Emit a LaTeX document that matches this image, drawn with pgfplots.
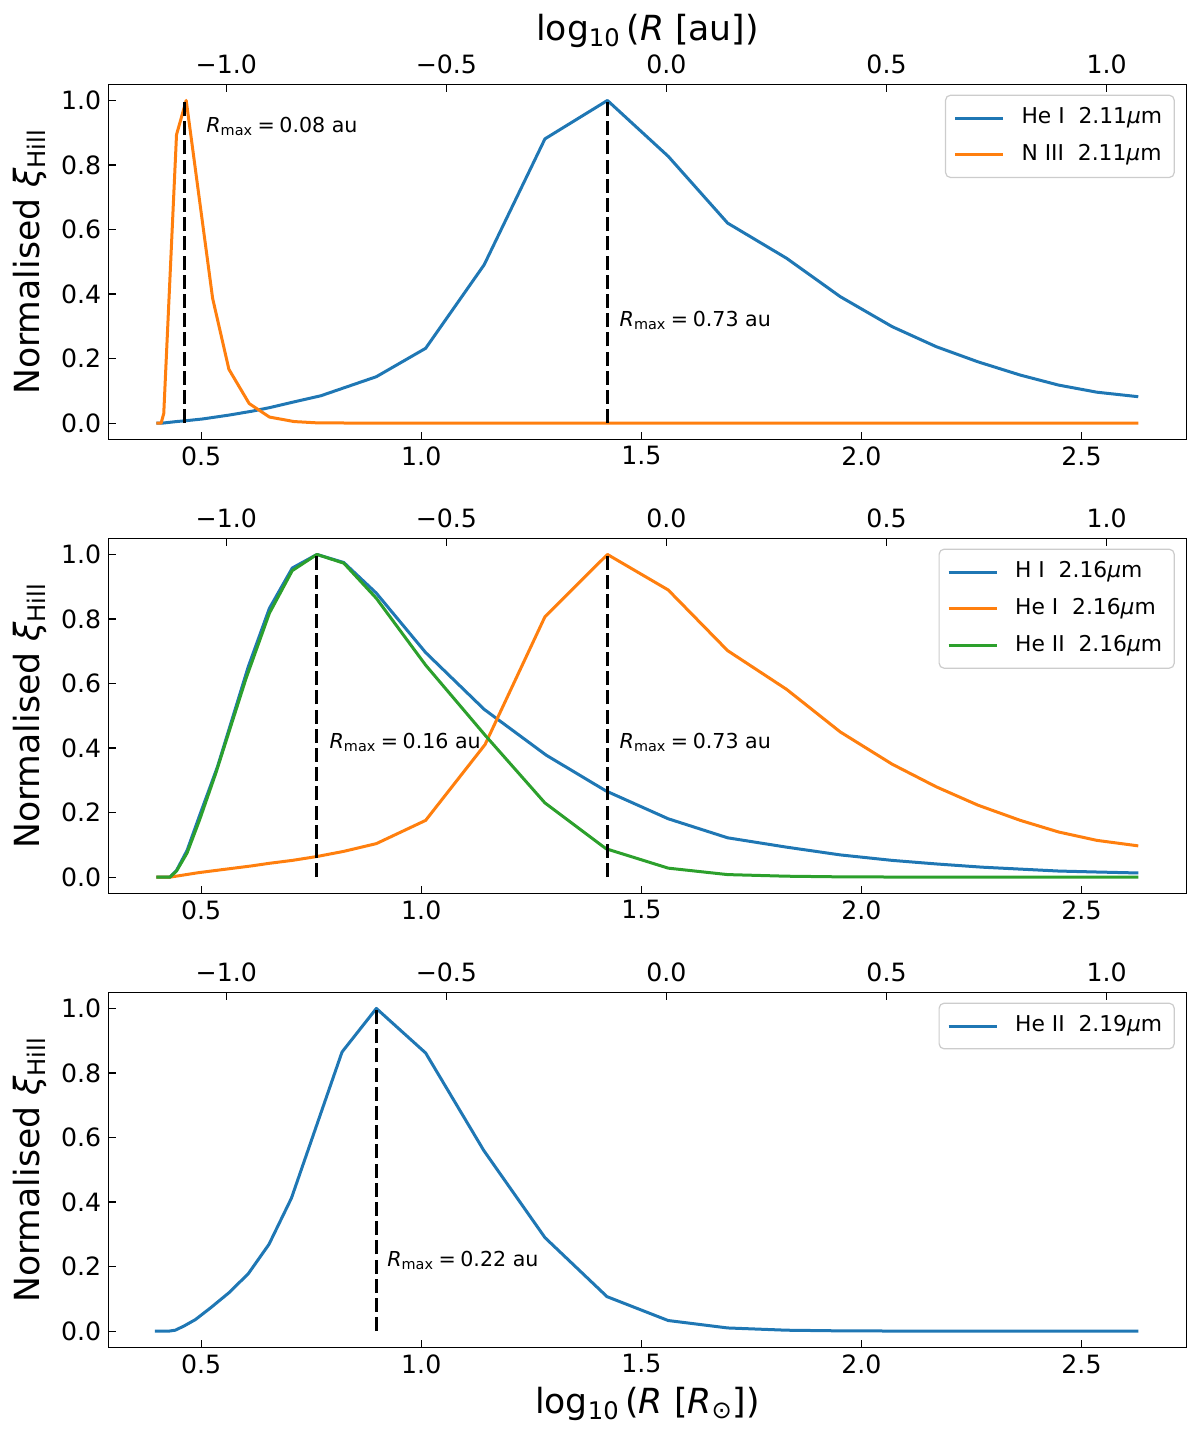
\documentclass[border=0pt]{standalone}
\usepackage{fontspec}
\setmainfont{DejaVu Sans}
\usepackage{pgfplots}
\pgfplotsset{compat=1.18}

\definecolor{tabblue}{HTML}{1F77B4}
\definecolor{taborange}{HTML}{FF7F0E}
\definecolor{tabgreen}{HTML}{2CA02C}

\newcommand{\ticksize}{\fontsize{12.6}{15}\selectfont}
\newcommand{\labsize}{\fontsize{17.3}{20}\selectfont}
\newcommand{\legsize}{\fontsize{10.9}{13}\selectfont}
\newcommand{\annsize}{\fontsize{10.3}{12}\selectfont}
\newcommand{\mum}{\textit{μ}m}
\newcommand{\rmax}[1]{\textit{R}\textsubscript{max}\hspace{0.22em}=\hspace{0.22em}#1 au}

\pgfplotsset{
  panel/.style={
    scale only axis, width=539.2pt, height=177.5pt,
    xmin=0.289, xmax=2.739, ymin=-0.05, ymax=1.05,
    xtick={0.5,1,1.5,2,2.5}, xticklabels={0.5,1.0,1.5,2.0,2.5},
    ytick={0,0.2,0.4,0.6,0.8,1}, yticklabels={0.0,0.2,0.4,0.6,0.8,1.0},
    tick align=inside, xtick pos=left, ytick pos=left,
    major tick length=3.8pt,
    every tick/.style={black, line width=0.6pt},
    axis line style={line width=0.7pt},
    tick label style={font=\ticksize},
    ylabel={Normalised \textit{ξ}\textsubscript{Hill}},
    ylabel style={font=\labsize, at={(axis description cs:-0.06398,0.5)}, anchor=base},
    legend cell align=left,
    legend image code/.code={\draw[##1] (0pt,0pt) -- (24pt,0pt);},
    legend style={at={(axis description cs:0.989,0.971)}, anchor=north east,
      draw=black!20, line width=0.6pt, rounded corners=2.5pt,
      fill=white, fill opacity=0.8, text opacity=1,
      inner xsep=4pt, inner ysep=2.8pt, row sep=1.15pt, font=\legsize,
      nodes={inner xsep=2pt, inner ysep=3pt, text height=8.5pt, text depth=2.7pt},
      /tikz/every odd column/.append style={column sep=6.5pt}},
  },
  topaxis/.style={
    scale only axis, width=539.2pt, height=177.5pt,
    xmin=-1.268, xmax=1.182, ymin=0, ymax=1,
    axis x line*=top, axis y line=none,
    xtick={-1,-0.5,0,0.5,1}, xticklabels={−1.0,−0.5,0.0,0.5,1.0},
    tick align=inside, major tick length=3.8pt,
    every tick/.style={black, line width=0.6pt},
    axis line style={line width=0.7pt},
    tick label style={font=\ticksize},
    xticklabel style={yshift=1.8pt},
  },
  ser/.style={#1, line width=1.5pt, line join=round, mark=none},
  rline/.style={black, line width=1.5pt, dash pattern=on 7pt off 2.6pt, mark=none, forget plot},
}

\begin{document}
\begin{tikzpicture}
\useasboundingbox (0,0) rectangle (600pt,-716pt);

% ---------- panel 1
\begin{axis}[panel, at={(54.15pt,-42.15pt)}, anchor=north west]
\addplot[ser=tabblue] coordinates {
(0.398,0.000) (0.411,0.000) (0.444,0.005) (0.468,0.008) (0.503,0.013)
(0.563,0.025) (0.615,0.037) (0.655,0.048) (0.711,0.066) (0.772,0.085)
(0.898,0.144) (1.010,0.232) (1.143,0.491) (1.281,0.881) (1.423,1.000)
(1.561,0.827) (1.696,0.620) (1.830,0.511) (1.952,0.392) (2.070,0.299)
(2.170,0.237) (2.265,0.190) (2.361,0.149) (2.448,0.118) (2.535,0.096)
(2.629,0.082)};
\addlegendentry{He I\ \ 2.11\mum}
\addplot[ser=taborange] coordinates {
(0.398,0.000) (0.409,0.000) (0.415,0.030) (0.444,0.894) (0.466,1.000)
(0.526,0.387) (0.563,0.167) (0.609,0.061) (0.655,0.019) (0.711,0.005)
(0.763,0.001) (0.898,0.000) (1.281,0.000) (1.830,0.000) (2.629,0.000)};
\addlegendentry{N III\ \ 2.11\mum}
\addplot[rline] coordinates {(0.463,0) (0.463,1)};
\addplot[rline] coordinates {(1.423,0) (1.423,1)};
\node[anchor=base west, font=\annsize, inner sep=0pt] at (axis cs:0.511,0.90) {\rmax{0.08}};
\node[anchor=base west, font=\annsize, inner sep=0pt] at (axis cs:1.450,0.30) {\rmax{0.73}};
\end{axis}
\begin{axis}[topaxis, at={(54.15pt,-42.15pt)}, anchor=north west,
  xlabel={log\textsubscript{10}\,(\textit{R} [au])},
  xlabel style={font=\labsize, at={(axis description cs:0.5,1.12479)}, anchor=base}]
\end{axis}

% ---------- panel 2
\begin{axis}[panel, at={(54.15pt,-269.15pt)}, anchor=north west]
\addplot[ser=tabblue] coordinates {
(0.398,0.000) (0.429,0.000) (0.444,0.021) (0.468,0.083) (0.498,0.197)
(0.537,0.342) (0.607,0.652) (0.655,0.833) (0.707,0.958) (0.763,1.000)
(0.824,0.975) (0.898,0.880) (1.010,0.696) (1.143,0.520) (1.284,0.378)
(1.420,0.267) (1.561,0.181) (1.696,0.122) (1.830,0.093) (1.952,0.069)
(2.070,0.052) (2.170,0.041) (2.274,0.031) (2.361,0.025) (2.448,0.019)
(2.535,0.016) (2.629,0.013)};
\addlegendentry{H I\ \ 2.16\mum}
\addplot[ser=taborange] coordinates {
(0.398,0.000) (0.429,0.000) (0.494,0.014) (0.563,0.026) (0.615,0.035)
(0.655,0.043) (0.707,0.052) (0.763,0.064) (0.824,0.080) (0.898,0.104)
(1.010,0.176) (1.145,0.411) (1.281,0.807) (1.423,1.000) (1.561,0.890)
(1.696,0.702) (1.830,0.582) (1.952,0.450) (2.070,0.350) (2.170,0.280)
(2.265,0.223) (2.361,0.176) (2.448,0.140) (2.535,0.114) (2.629,0.097)};
\addlegendentry{He I\ \ 2.16\mum}
\addplot[ser=tabgreen] coordinates {
(0.398,0.000) (0.429,0.000) (0.444,0.019) (0.468,0.075) (0.496,0.176)
(0.533,0.321) (0.602,0.616) (0.655,0.818) (0.707,0.950) (0.763,1.000)
(0.824,0.973) (0.898,0.864) (1.010,0.657) (1.145,0.440) (1.281,0.230)
(1.420,0.088) (1.561,0.028) (1.696,0.008) (1.830,0.003) (1.952,0.001)
(2.170,0.000) (2.629,0.000)};
\addlegendentry{He II\ \ 2.16\mum}
\addplot[rline] coordinates {(0.763,0) (0.763,1)};
\addplot[rline] coordinates {(1.423,0) (1.423,1)};
\node[anchor=base west, font=\annsize, inner sep=0pt] at (axis cs:0.791,0.40) {\rmax{0.16}};
\node[anchor=base west, font=\annsize, inner sep=0pt] at (axis cs:1.450,0.40) {\rmax{0.73}};
\end{axis}
\begin{axis}[topaxis, at={(54.15pt,-269.15pt)}, anchor=north west]
\end{axis}

% ---------- panel 3
\begin{axis}[panel, at={(54.15pt,-496.15pt)}, anchor=north west,
  xlabel={log\textsubscript{10}\,(\textit{R} [\textit{R}\textsubscript{⊙}])},
  xlabel style={font=\labsize, at={(axis description cs:0.5,-0.18704)}, anchor=base}]
\addplot[ser=tabblue] coordinates {
(0.395,0.000) (0.426,0.000) (0.441,0.003) (0.461,0.016) (0.487,0.036)
(0.522,0.073) (0.563,0.119) (0.607,0.178) (0.654,0.269) (0.705,0.412)
(0.820,0.865) (0.898,1.000) (1.010,0.862) (1.142,0.560) (1.281,0.290)
(1.422,0.107) (1.561,0.033) (1.696,0.010) (1.830,0.003) (1.952,0.001)
(2.170,0.000) (2.629,0.000)};
\addlegendentry{He II\ \ 2.19\mum}
\addplot[rline] coordinates {(0.898,0) (0.898,1)};
\node[anchor=base west, font=\annsize, inner sep=0pt] at (axis cs:0.922,0.20) {\rmax{0.22}};
\end{axis}
\begin{axis}[topaxis, at={(54.15pt,-496.15pt)}, anchor=north west]
\end{axis}
\end{tikzpicture}
\end{document}
